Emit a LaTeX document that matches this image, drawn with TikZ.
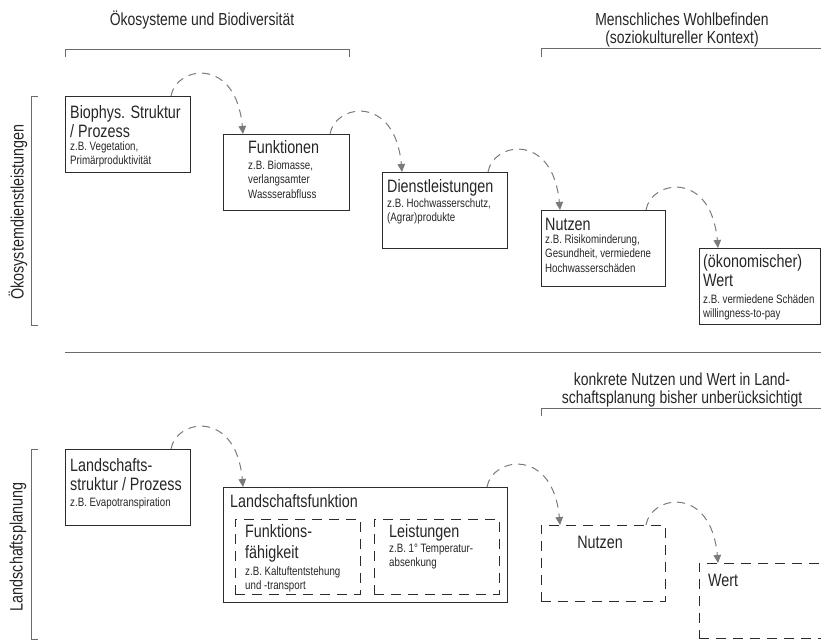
\documentclass[tikz,border=0pt]{standalone}
\usepackage{fontspec}
\setmainfont{Liberation Sans}[FakeStretch=0.8]
\usetikzlibrary{arrows.meta,calc}

\definecolor{ink}{HTML}{262626}
\definecolor{framecol}{HTML}{2C2C2C}
\definecolor{rulecol}{HTML}{6A6A6A}
\definecolor{flowcol}{HTML}{7A7A7A}

% struts fixing the height of the first line of a text block
\newcommand\titlestrut{\rule{0pt}{17bp}}
\newcommand\examplestrut{\rule{0pt}{12bp}}

\tikzset{
  panel/.style={draw=framecol, line width=0.9bp, inner sep=0pt, outer sep=0pt, anchor=north west},
  dashpanel/.style={panel, dash pattern=on 10bp off 7bp},
  titletext/.style={text=ink, inner sep=0pt, anchor=north west, align=left,
    font=\fontsize{18}{19.5}\selectfont},
  exampletext/.style={text=ink, inner sep=0pt, anchor=north west, align=left,
    font=\fontsize{12.2}{14.5}\selectfont},
  headtext/.style={text=ink, inner sep=0pt, anchor=north, align=center,
    font=\fontsize{17.5}{18}\selectfont},
  sidetext/.style={text=ink, inner sep=0pt, rotate=90,
    font=\fontsize{18}{19}\selectfont},
  bracket/.style={draw=rulecol, line width=1bp},
  flow/.style={draw=flowcol, line width=1bp, dash pattern=on 8bp off 6bp,
    -{Triangle[length=8bp,width=7.5bp]}},
}

\begin{document}
\begin{tikzpicture}[x=1bp,y=-1bp]
\useasboundingbox (0,0) rectangle (821,640);
\clip (0,0) rectangle (821,640);

% ---------- headings and brackets ----------
\node[headtext] (hEco) at (202,8) {\titlestrut Ökosysteme und Biodiversität};
\node[headtext] (hWell) at (682,8) {\titlestrut Menschliches Wohlbefinden\\(soziokultureller Kontext)};
\node[headtext] (hPlan) at (682,368) {\titlestrut konkrete Nutzen und Wert in Land-\\schaftsplanung bisher unberücksichtigt};

\draw[bracket] (65,57) -- (65,50) -- (349,50) -- (349,57);
\draw[bracket] (541,57) -- (541,49) -- (830,49);
\draw[bracket] (541,416) -- (541,408) -- (830,408);

\draw[bracket] (38,97) -- (31,97) -- (31,325) -- (38,325);
\draw[bracket] (38,449) -- (31,449) -- (31,639) -- (38,639);
\node[sidetext] (sEco) at (18,212) {Ökosystemdienstleistungen};
\node[sidetext] (sPlan) at (18,547) {Landschaftsplanung};

\draw[bracket] (65,352) -- (830,352);

% ---------- upper cascade ----------
\node[panel, minimum width=125bp, minimum height=76bp] (b1) at (65,96) {};
\node[panel, minimum width=126bp, minimum height=76bp] (b2) at (223,134) {};
\node[panel, minimum width=125bp, minimum height=76bp] (b3) at (382,172) {};
\node[panel, minimum width=124bp, minimum height=76bp] (b4) at (541,210) {};
\node[panel, minimum width=121bp, minimum height=76bp] (b5) at (699,248) {};

\node[titletext] (b1t) at ($(b1.north west)+(5,5)$) {\titlestrut Biophys. Struktur\\/ Prozess};
\node[exampletext] (b1e) at ($(b1.north west)+(5,42)$) {\examplestrut z.B. Vegetation,\\Primärproduktivität};

\node[titletext] (b2t) at ($(b2.north west)+(25,2)$) {\titlestrut Funktionen};
\node[exampletext] (b2e) at ($(b2.north west)+(25,23)$) {\examplestrut z.B. Biomasse,\\verlangsamter\\Wassserabfluss};

\node[titletext] (b3t) at ($(b3.north west)+(5,3)$) {\titlestrut Dienstleistungen};
\node[exampletext] (b3e) at ($(b3.north west)+(5,23)$) {\examplestrut z.B. Hochwasserschutz,\\(Agrar)produkte};

\node[titletext] (b4t) at ($(b4.north west)+(4,3)$) {\titlestrut Nutzen};
\node[exampletext] (b4e) at ($(b4.north west)+(4,21)$) {\examplestrut z.B. Risikominderung,\\Gesundheit, vermiedene\\Hochwasserschäden};

\node[titletext] (b5t) at ($(b5.north west)+(4,2)$) {\titlestrut (ökonomischer)\\Wert};
\node[exampletext] (b5e) at ($(b5.north west)+(4,43)$) {\examplestrut z.B. vermiedene Schäden\\willingness-to-pay};

\draw[flow] ([xshift=-19bp]b1.north east) .. controls +(5,-30) and +(-7,-78) .. ([xshift=20bp]b2.north west);
\draw[flow] ([xshift=-19bp]b2.north east) .. controls +(5,-30) and +(-7,-78) .. ([xshift=20bp]b3.north west);
\draw[flow] ([xshift=-19bp]b3.north east) .. controls +(5,-30) and +(-7,-78) .. ([xshift=19bp]b4.north west);
\draw[flow] ([xshift=-19bp]b4.north east) .. controls +(5,-30) and +(-7,-78) .. ([xshift=19bp]b5.north west);

% ---------- lower cascade ----------
\node[panel, minimum width=125bp, minimum height=76bp] (c1) at (65,449) {};
\node[panel, minimum width=284bp, minimum height=115bp] (c2) at (223,487) {};
\node[dashpanel, minimum width=125bp, minimum height=75bp] (c2a) at (235,519) {};
\node[dashpanel, minimum width=125bp, minimum height=75bp] (c2b) at (374,519) {};
\node[dashpanel, minimum width=124bp, minimum height=76bp] (c3) at (541,525) {};
\node[dashpanel, minimum width=150bp, minimum height=75bp] (c4) at (699,563) {};

\node[titletext] (c1t) at ($(c1.north west)+(5,5)$) {\titlestrut Landschafts-\\struktur / Prozess};
\node[exampletext] (c1e) at ($(c1.north west)+(5,45)$) {\examplestrut z.B. Evapotranspiration};

\node[titletext] (c2t) at ($(c2.north west)+(7,3)$) {\titlestrut Landschaftsfunktion};

\node[titletext, font=\fontsize{18}{21}\selectfont] (c2at) at ($(c2a.north west)+(10,1)$) {\titlestrut Funktions-\\fähigkeit};
\node[exampletext] (c2ae) at ($(c2a.north west)+(10,44)$) {\examplestrut z.B. Kaltuftentstehung\\und -transport};

\node[titletext] (c2bt) at ($(c2b.north west)+(15,1)$) {\titlestrut Leistungen};
\node[exampletext] (c2be) at ($(c2b.north west)+(15,21)$) {\examplestrut z.B. 1° Temperatur-\\absenkung};

\node[titletext, anchor=north] (c3t) at ($(c3.north)+(-3,6)$) {\titlestrut Nutzen};
\node[titletext] (c4t) at ($(c4.north west)+(9,6)$) {\titlestrut Wert};

\draw[flow] ([xshift=-19bp]c1.north east) .. controls +(5,-30) and +(-7,-78) .. ([xshift=20bp]c2.north west);
\draw[flow] ([xshift=-20bp]c2.north east) .. controls +(5,-30) and +(-7,-78) .. ([xshift=19bp]c3.north west);
\draw[flow] ([xshift=-19bp]c3.north east) .. controls +(5,-30) and +(-7,-78) .. ([xshift=19bp]c4.north west);
\end{tikzpicture}
\end{document}
